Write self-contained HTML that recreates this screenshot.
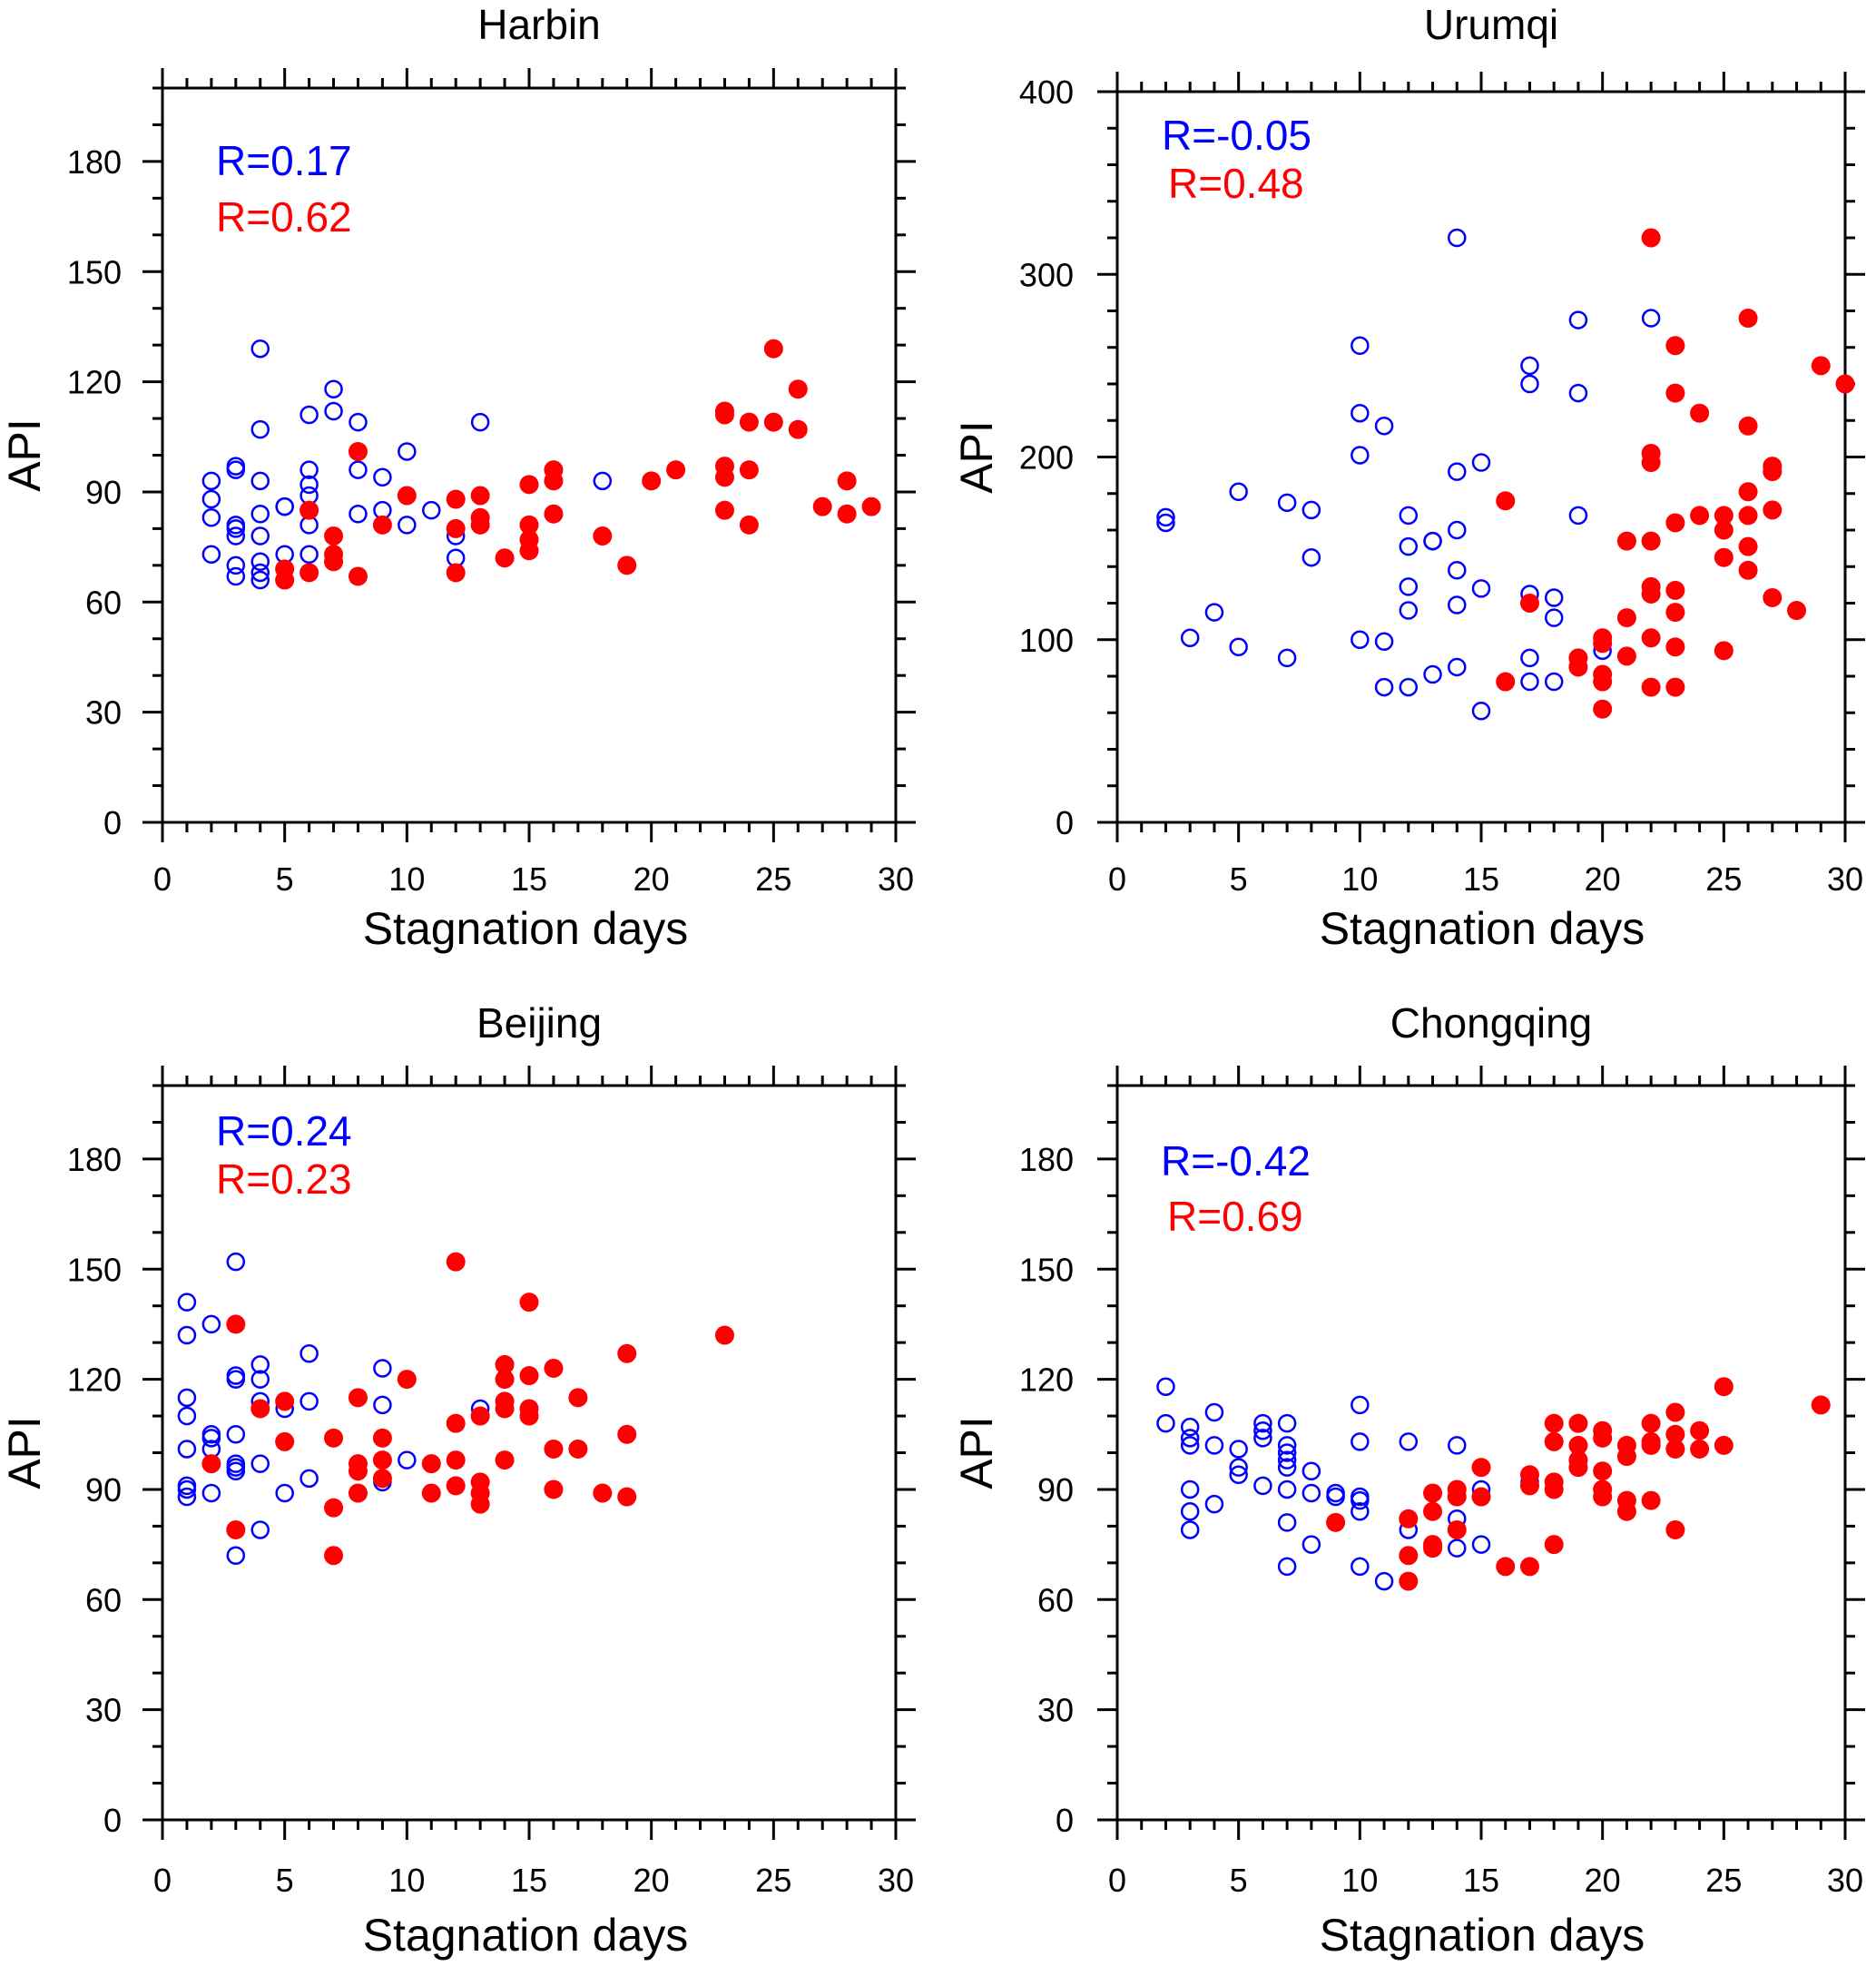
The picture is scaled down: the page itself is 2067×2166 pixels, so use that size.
<!DOCTYPE html>
<html><head><meta charset="utf-8">
<style>
html,body{margin:0;padding:0;background:#fff;}
svg{display:block;font-family:"Liberation Sans",Arial,sans-serif;}
</style></head>
<body>
<svg id="chart" width="2067" height="2166" viewBox="0 0 2067 2166" xmlns="http://www.w3.org/2000/svg"></svg>
<script>
// ---- Data (x = stagnation days, y = API) ----
const harbinBlueX=[2,2,2,2,3,3,3,3,3,3,3,4,4,4,4,4,4,4,4,5,5,5,6,6,6,6,6,6,7,7,8,8,8,9,9,10,10,11,12,12,13,18];
const harbinBlueY=[93,88,83,73,97,96,81,80,78,70,67,129,107,93,84,78,71,68,66,86,86,73,111,96,92,89,81,73,118,112,109,96,84,94,85,101,81,85,78,72,109,93];
const harbinRedX=[5,5,6,6,7,7,7,8,8,9,10,12,12,12,13,13,13,14,15,15,15,15,16,16,16,18,19,20,21,23,23,23,23,23,24,24,24,25,25,26,26,27,28,28,29];
const harbinRedY=[69,66,85,68,78,73,71,101,67,81,89,88,80,68,89,83,81,72,92,81,77,74,96,93,84,78,70,93,96,112,111,97,94,85,109,96,81,129,109,118,107,86,93,84,86];

const urumqiBlueX=[2,2,3,4,5,5,7,7,8,8,10,10,10,10,11,11,11,12,12,12,12,12,13,13,13,14,14,14,14,14,14,15,15,15,17,17,17,17,17,18,18,18,19,19,19,20,22];
const urumqiBlueY=[167,164,101,115,181,96,175,90,171,145,261,224,201,100,217,99,74,168,151,129,116,74,154,154,81,320,192,160,138,119,85,197,128,61,250,240,125,90,77,123,112,77,275,235,168,94,276];
const urumqiRedX=[16,16,17,19,19,20,20,20,20,20,21,21,21,22,22,22,22,22,22,22,22,23,23,23,23,23,23,23,24,24,25,25,25,25,26,26,26,26,26,26,27,27,27,27,28,29,30];
const urumqiRedY=[176,77,120,90,85,101,98,81,77,62,154,112,91,320,202,197,154,129,125,101,74,261,235,164,127,115,96,74,224,168,168,160,145,94,276,217,181,168,151,138,195,192,171,123,116,250,240];

const beijingBlueX=[1,1,1,1,1,1,1,1,2,2,2,2,2,3,3,3,3,3,3,3,3,4,4,4,4,4,5,5,6,6,6,8,8,9,9,9,10,13];
const beijingBlueY=[141,132,115,110,101,91,90,88,135,105,104,101,89,152,121,120,105,97,96,95,72,124,120,114,97,79,112,89,127,114,93,115,89,123,113,92,98,112];
const beijingRedX=[2,3,3,4,5,5,7,7,7,8,8,8,8,9,9,9,10,11,11,12,12,12,12,13,13,13,13,14,14,14,14,14,15,15,15,15,16,16,16,17,17,18,19,19,19,23];
const beijingRedY=[97,135,79,112,114,103,104,85,72,115,97,95,89,104,98,93,120,97,89,152,108,98,91,110,92,89,86,124,120,114,112,98,141,121,112,110,123,101,90,115,101,89,127,105,88,132];

const chongqingBlueX=[2,2,3,3,3,3,3,3,4,4,4,5,5,5,6,6,6,6,7,7,7,7,7,7,7,7,8,8,8,9,9,10,10,10,10,10,10,11,12,12,14,14,14,15,15,17];
const chongqingBlueY=[118,108,107,104,102,90,84,79,111,102,86,101,96,94,108,106,104,91,108,102,100,98,96,90,81,69,95,89,75,89,88,113,103,88,87,84,69,65,103,79,102,82,74,90,75,92];
const chongqingRedX=[9,12,12,12,13,13,13,13,14,14,14,15,15,16,17,17,17,18,18,18,18,18,19,19,19,19,20,20,20,20,20,21,21,21,21,22,22,22,22,23,23,23,23,24,24,25,25,29];
const chongqingRedY=[81,82,72,65,89,84,75,74,90,88,79,96,88,69,94,91,69,108,103,92,90,75,108,102,98,96,106,104,95,90,88,102,99,87,84,108,103,102,87,111,105,101,79,106,101,118,102,113];

const xTickLabels=["0","5","10","15","20","25","30"];
const yTicksStd=["0","30","60","90","120","150","180"];
const yTicksUrumqi=["0","100","200","300","400"];

const svg=document.getElementById('chart');
const NS="http://www.w3.org/2000/svg";
function mk(tag,attrs,parent){const e=document.createElementNS(NS,tag);for(const k in attrs)e.setAttribute(k,attrs[k]);(parent||svg).appendChild(e);return e;}

function panel(cfg){
  const g=mk('g',{});
  
  
  const L=cfg.left,R=cfg.right,T=cfg.top,B=cfg.bottom;
  const sx=v=>L+(v-0)/30*(R-L);
  const sy=v=>B-(v/cfg.ymax)*(B-T);
  const t=mk('text',{x:(L+R)/2+11,y:cfg.titleY,'text-anchor':'middle','font-size':46,fill:'#000'},g);
  t.textContent=cfg.title;
  
  
  const tg=mk('g',{stroke:'#000','stroke-width':3},g);
  
  
  for(let v=0;v<=30;v++){
    const x=sx(v),len=(v%5===0)?22:11;
    mk('line',{x1:x,y1:B,x2:x,y2:B+len},tg);
    mk('line',{x1:x,y1:T,x2:x,y2:T-len},tg);
  }
  for(let v=0;v<=cfg.ymax;v+=cfg.yMinor){
    const y=sy(v),len=(Math.round(v)%cfg.yMajor===0)?22:11;
    mk('line',{x1:L,y1:y,x2:L-len,y2:y},tg);
    mk('line',{x1:R,y1:y,x2:R+len,y2:y},tg);
  }
  const fr=mk('rect',{x:L,y:T,width:R-L,height:B-T,fill:'none',stroke:'#000','stroke-width':3},g);
  
  
  xTickLabels.forEach(s=>{
    const e=mk('text',{x:sx(+s),y:B+cfg.xTickDy,'text-anchor':'middle','font-size':36,fill:'#000'},g);
    e.textContent=s;
    
    
  });
  cfg.yLabels.forEach(s=>{
    const e=mk('text',{x:L-cfg.yLabelGap,y:sy(+s)+13,'text-anchor':'end','font-size':36,fill:'#000'},g);
    e.textContent=s;
    
    
  });
  const xl=mk('text',{x:cfg.xTitleX,y:B+cfg.xTitleDy,'text-anchor':'middle','font-size':50,fill:'#000'},g);
  xl.textContent='Stagnation days';
  
  
  const yc=(T+B)/2;
  const yl=mk('text',{x:0,y:0,'text-anchor':'middle','font-size':50,fill:'#000',transform:`translate(${cfg.yTitleX},${yc}) rotate(-90)`},g);
  yl.textContent='API';
  
  
  const rb=mk('text',{x:cfg.rBlue[0],y:cfg.rBlue[1],'font-size':46,fill:'#0000ff'},g);
  rb.textContent=cfg.rBlueText;
  
  
  const rr=mk('text',{x:cfg.rRed[0],y:cfg.rRed[1],'font-size':46,fill:'#ff0000'},g);
  rr.textContent=cfg.rRedText;
  
  
  const pb=mk('g',{},g);
  
  
  cfg.bx.forEach((x,i)=>{
    const c=mk('circle',{cx:sx(x),cy:sy(cfg.by[i]),r:9,fill:'none',stroke:'#0000ff','stroke-width':2.5},pb);
    
    
  });
  const pr=mk('g',{},g);
  
  
  cfg.rx.forEach((x,i)=>{
    const c=mk('circle',{cx:sx(x),cy:sy(cfg.ry[i]),r:10.5,fill:'#ff0000'},pr);
    
    
  });
}

panel({id:'harbin',title:'Harbin',left:179,right:987,top:97,bottom:906,titleY:43,ymax:200,yMinor:10,yMajor:30,yLabels:yTicksStd,yLabelGap:45,xTitleX:579,yTitleX:44,xTickDy:75,xTitleDy:134,
  rBlue:[238,193],rRed:[238,255],rBlueText:'R=0.17',rRedText:'R=0.62',bx:harbinBlueX,by:harbinBlueY,rx:harbinRedX,ry:harbinRedY});
panel({id:'urumqi',title:'Urumqi',left:1231,right:2033,top:101,bottom:906,titleY:43,ymax:400,yMinor:20,yMajor:100,yLabels:yTicksUrumqi,yLabelGap:48,xTitleX:1633,yTitleX:1093,xTickDy:75,xTitleDy:134,
  rBlue:[1280,165],rRed:[1287,218],rBlueText:'R=-0.05',rRedText:'R=0.48',bx:urumqiBlueX,by:urumqiBlueY,rx:urumqiRedX,ry:urumqiRedY});
panel({id:'beijing',title:'Beijing',left:179,right:987,top:1196,bottom:2005,titleY:1143,ymax:200,yMinor:10,yMajor:30,yLabels:yTicksStd,yLabelGap:45,xTitleX:579,yTitleX:44,xTickDy:79,xTitleDy:144,
  rBlue:[238,1262],rRed:[238,1315],rBlueText:'R=0.24',rRedText:'R=0.23',bx:beijingBlueX,by:beijingBlueY,rx:beijingRedX,ry:beijingRedY});
panel({id:'chongqing',title:'Chongqing',left:1231,right:2033,top:1196,bottom:2005,titleY:1143,ymax:200,yMinor:10,yMajor:30,yLabels:yTicksStd,yLabelGap:48,xTitleX:1633,yTitleX:1093,xTickDy:79,xTitleDy:144,
  rBlue:[1279,1295],rRed:[1286,1356],rBlueText:'R=-0.42',rRedText:'R=0.69',bx:chongqingBlueX,by:chongqingBlueY,rx:chongqingRedX,ry:chongqingRedY});
</script>
</body></html>
